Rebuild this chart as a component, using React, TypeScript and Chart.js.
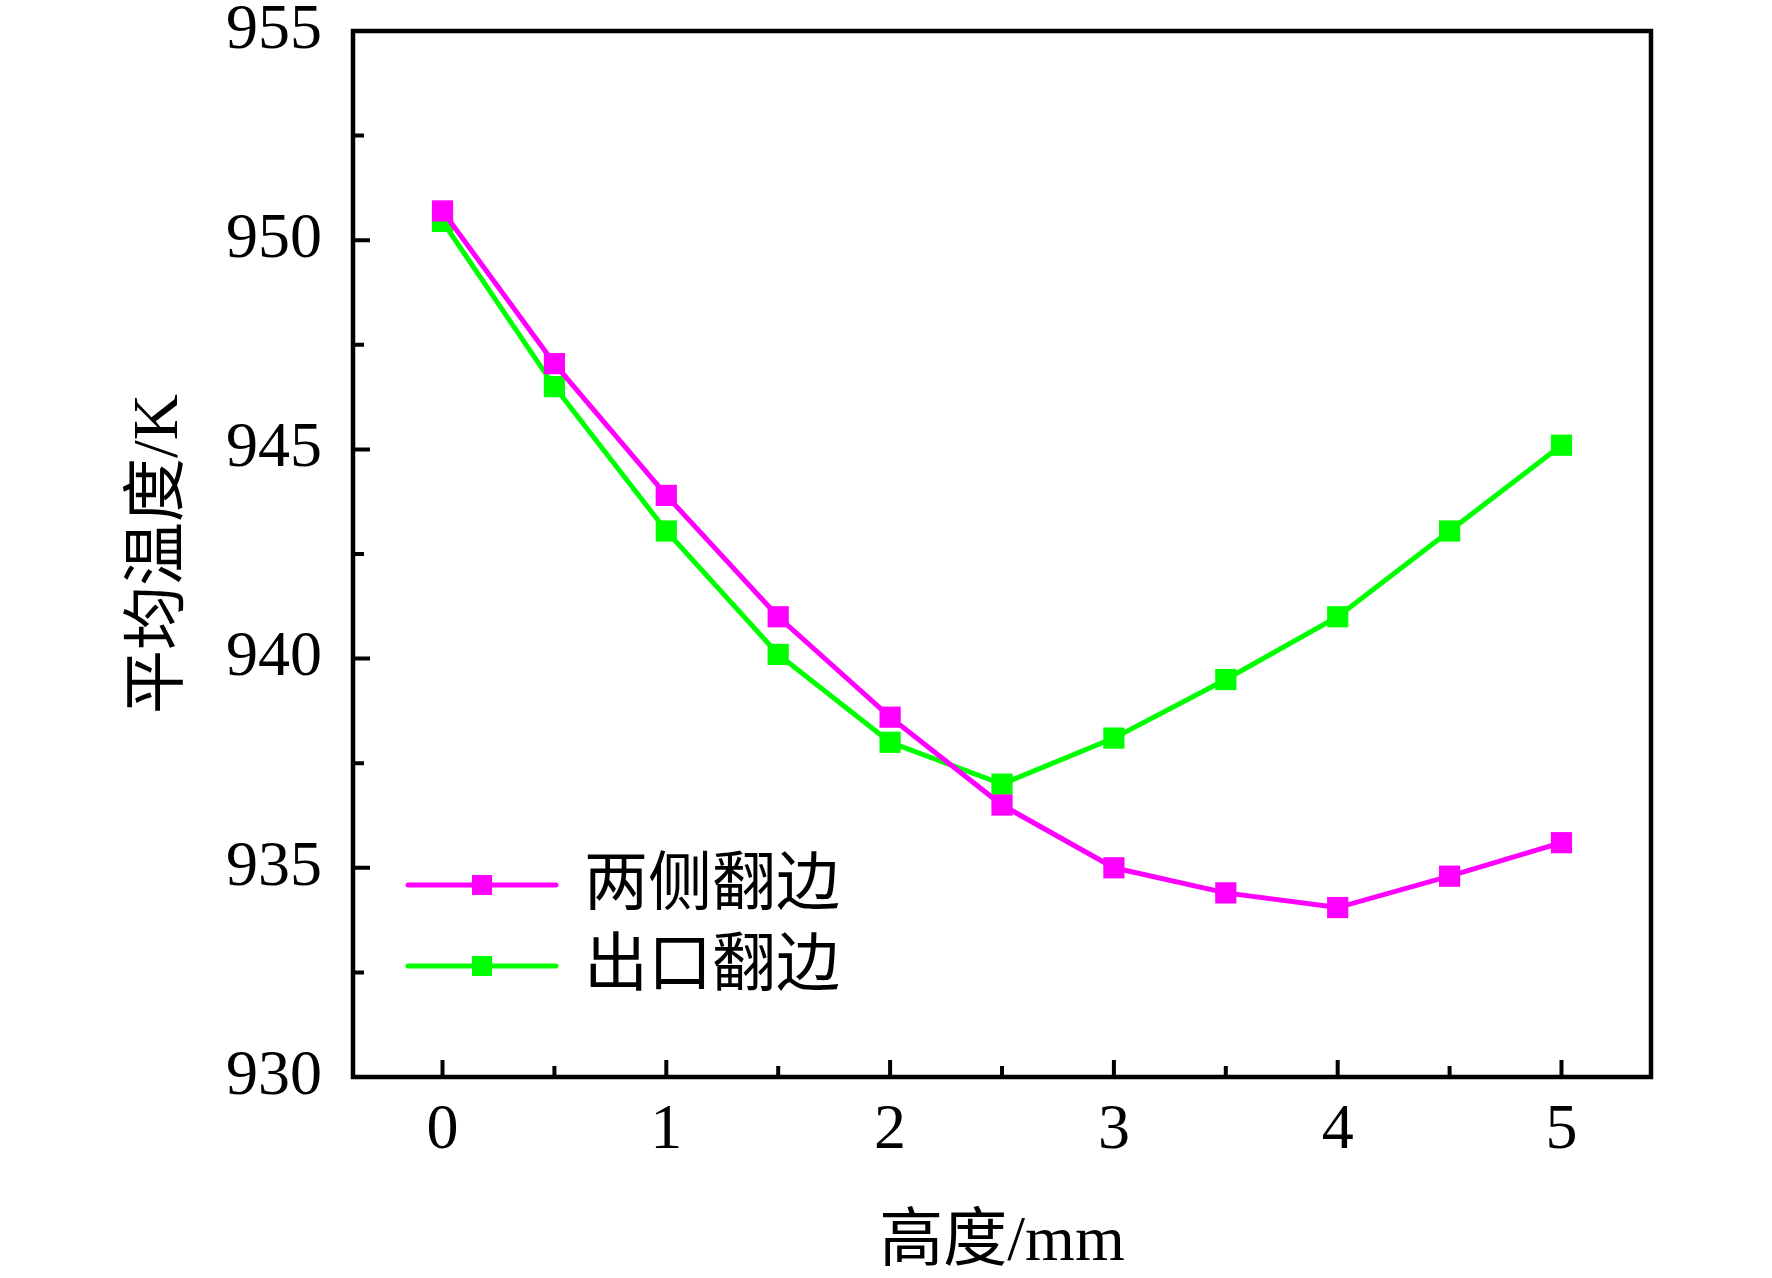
import { useEffect, useRef } from 'react';
import { Chart, registerables } from 'chart.js';
import type { Plugin } from 'chart.js';

Chart.register(...registerables);

const heights = [0, 0.5, 1, 1.5, 2, 2.5, 3, 3.5, 4, 4.5, 5];
const bothSides = [950.7, 947.05, 943.9, 941.0, 938.6, 936.5, 935.0, 934.4, 934.05, 934.8, 935.6];
const outletOnly = [950.45, 946.5, 943.05, 940.1, 938.0, 937.0, 938.1, 939.5, 941.0, 943.05, 945.1];
const seriesNames = ['两侧翻边', '出口翻边'];
const seriesColors = ['#ff00ff', '#00ff00'];
const xTickValues = [0, 1, 2, 3, 4, 5];
const yTickValues = [930, 935, 940, 945, 950, 955];

const FONT = '"Liberation Serif", "Times New Roman", "Noto Sans CJK SC", serif';

// box around the plot, ticks pointing inward (major + minor)
const frame: Plugin<'line'> = {
  id: 'frame',
  afterDraw(chart) {
    const { ctx, chartArea: a } = chart;
    const xs = chart.scales.x;
    const ys = chart.scales.y;
    ctx.save();
    ctx.strokeStyle = '#000';
    ctx.lineWidth = 4.5;
    ctx.strokeRect(a.left, a.top, a.right - a.left, a.bottom - a.top);
    ctx.lineWidth = 4;
    ctx.beginPath();
    xTickValues.forEach((v, i) => {
      const px = xs.getPixelForValue(v);
      ctx.moveTo(px, a.bottom);
      ctx.lineTo(px, a.bottom - 17);
      if (i < xTickValues.length - 1) {
        const mx = xs.getPixelForValue((v + xTickValues[i + 1]) / 2);
        ctx.moveTo(mx, a.bottom);
        ctx.lineTo(mx, a.bottom - 11);
      }
    });
    yTickValues.forEach((v, i) => {
      const py = ys.getPixelForValue(v);
      ctx.moveTo(a.left, py);
      ctx.lineTo(a.left + 17, py);
      if (i < yTickValues.length - 1) {
        const my = ys.getPixelForValue((v + yTickValues[i + 1]) / 2);
        ctx.moveTo(a.left, my);
        ctx.lineTo(a.left + 11, my);
      }
    });
    ctx.stroke();
    ctx.restore();
  },
};

// legend sits inside the plot, lower left
const insideLegend: Plugin<'line'> = {
  id: 'insideLegend',
  afterDraw(chart) {
    const { ctx } = chart;
    ctx.save();
    chart.data.datasets.forEach((ds, i) => {
      const y = 885 + i * 81;
      const color = ds.borderColor as string;
      ctx.strokeStyle = color;
      ctx.lineWidth = 5;
      ctx.lineCap = 'round';
      ctx.beginPath();
      ctx.moveTo(408, y);
      ctx.lineTo(556, y);
      ctx.stroke();
      ctx.fillStyle = color;
      ctx.fillRect(472, y - 10, 20, 20);
      ctx.fillStyle = '#000';
      ctx.font = `64px ${FONT}`;
      ctx.textBaseline = 'middle';
      ctx.textAlign = 'left';
      ctx.fillText(ds.label as string, 584, y + 2);
    });
    ctx.restore();
  },
};

export default function App() {
  const canvasRef = useRef<HTMLCanvasElement>(null);

  useEffect(() => {
    if (!canvasRef.current) return;
    const ctx = canvasRef.current.getContext('2d');
    if (!ctx) return;

    const series = [bothSides, outletOnly];
    const chart = new Chart(ctx, {
      type: 'line',
      data: {
        datasets: series.map((vals, i) => ({
          label: seriesNames[i],
          data: heights.map((h, j) => ({ x: h, y: vals[j] })),
          borderColor: seriesColors[i],
          backgroundColor: seriesColors[i],
          borderWidth: 5,
          pointStyle: 'rect',
          pointRadius: 15,
          pointBorderWidth: 0,
          tension: 0,
        })),
      },
      options: {
        responsive: false,
        devicePixelRatio: 1,
        animation: false,
        events: [],
        layout: { padding: { left: 0, right: 121, top: 0, bottom: 0 } },
        plugins: { legend: { display: false }, tooltip: { enabled: false } },
        scales: {
          x: {
            type: 'linear',
            min: -0.4,
            max: 5.4,
            afterBuildTicks: (s) => {
              s.ticks = xTickValues.map((v) => ({ value: v }));
            },
            afterFit: (s) => {
              s.height = 201;
              s.paddingLeft = 0;
              s.paddingRight = 0;
            },
            grid: { display: false, drawTicks: false, tickLength: 0 },
            border: { display: false },
            ticks: { color: '#000', padding: 22, font: { family: FONT, size: 64, lineHeight: 1 } },
            title: {
              display: true,
              text: '高度/mm',
              color: '#000',
              font: { family: FONT, size: 64, lineHeight: 1.1 },
              padding: { top: 0, bottom: 0 },
            },
          },
          y: {
            min: 930,
            max: 955,
            afterBuildTicks: (s) => {
              s.ticks = yTickValues.map((v) => ({ value: v }));
            },
            afterFit: (s) => {
              s.width = 353;
              s.paddingTop = 31;
              s.paddingBottom = 0;
            },
            grid: { display: false, drawTicks: false, tickLength: 0 },
            border: { display: false },
            ticks: { color: '#000', padding: 31, font: { family: FONT, size: 64, lineHeight: 1 } },
            title: {
              display: true,
              text: '平均温度/K',
              color: '#000',
              font: { family: FONT, size: 64, lineHeight: 1.2 },
              padding: { top: 122, bottom: 0 },
            },
          },
        },
      },
      plugins: [frame, insideLegend],
    });

    return () => chart.destroy();
  }, []);

  return (
    <div style={{ position: 'absolute', left: 0, top: 0, width: 1772, height: 1278, background: '#fff' }}>
      <canvas ref={canvasRef} width={1772} height={1278} style={{ width: 1772, height: 1278 }} />
    </div>
  );
}
